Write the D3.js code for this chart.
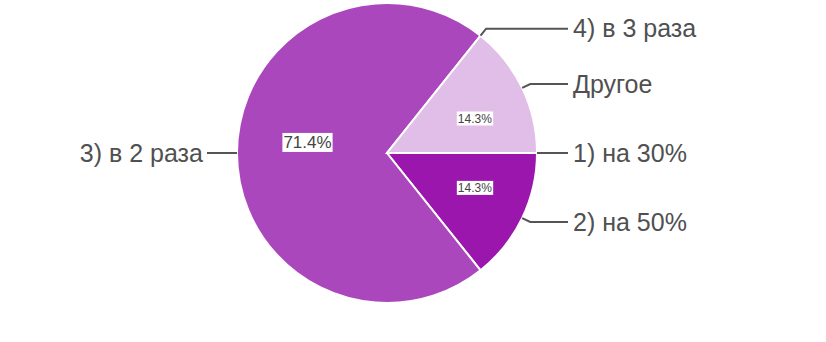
<!DOCTYPE html>
<html>
<head>
<meta charset="utf-8">
<script src="https://cdn.jsdelivr.net/npm/d3@7"></script>
<style>
  body { margin: 0; background: #fff; }
  svg text { font-family: "Liberation Sans", Arial, sans-serif; }
</style>
</head>
<body>
<div id="chart"></div>
<script>
var labels = ["1) на 30%", "2) на 50%", "3) в 2 раза", "4) в 3 раза", "Другое"];
var values = [0, 1, 5, 0, 1];
var colors = ["#7b1fa2", "#9a16ad", "#ab47bc", "#ce93d8", "#e1bee7"];

var width = 826,
    height = 342,
    cx = 387,
    cy = 153,
    radius = 150;

var svg = d3.select("#chart").append("svg")
    .attr("width", width)
    .attr("height", height);

var g = svg.append("g")
    .attr("transform", "translate(" + cx + "," + cy + ")");

var data = labels.map(function(d, i) { return { label: d, value: values[i], color: colors[i] }; });
var total = d3.sum(values);

/* pie starts at 3 o'clock, clockwise */
var pie = d3.pie()
    .sort(null)
    .value(function(d) { return d.value; })
    .startAngle(Math.PI / 2)
    .endAngle(Math.PI / 2 + 2 * Math.PI);

var arcs = pie(data);

var arc = d3.arc().innerRadius(0).outerRadius(radius);
var edgeArc = d3.arc().innerRadius(radius).outerRadius(radius);
var outerArc = d3.arc().innerRadius(radius * 1.06).outerRadius(radius * 1.06);
var smallLabelArc = d3.arc().innerRadius(radius * 0.65).outerRadius(radius * 0.65);
var bigLabelArc = d3.arc().innerRadius(radius * 0.53).outerRadius(radius * 0.53);

g.selectAll("path.slice")
    .data(arcs.filter(function(d) { return d.value > 0; }))
    .enter().append("path")
        .attr("class", "slice")
        .attr("d", arc)
        .attr("fill", function(d) { return d.data.color; })
        .attr("stroke", "#fff")
        .attr("stroke-width", 2);

/* outside labels with leader lines */
arcs.forEach(function(d) {
    var mid = (d.startAngle + d.endAngle) / 2;
    var p0 = edgeArc.centroid(d),
        p1 = outerArc.centroid(d);
    var right = Math.sin(mid) > 0;
    if (Math.abs(p1[1]) < 2) p1 = [p0[0], p0[1]];
    var x2 = right ? radius + 31 : -(radius + 30);

    g.append("polyline")
        .attr("points", [p0, p1, [x2, p1[1]]].map(function(p) { return p.join(","); }).join(" "))
        .attr("fill", "none")
        .attr("stroke", "#555")
        .attr("stroke-width", 2);

    g.append("text")
        .attr("x", right ? x2 + 5 : x2 - 4)
        .attr("y", p1[1])
        .attr("dy", "0.35em")
        .attr("text-anchor", right ? "start" : "end")
        .attr("font-size", 25)
        .attr("fill", "#505050")
        .text(d.data.label);
});

/* percentage labels */
arcs.filter(function(d) { return d.value > 0; }).forEach(function(d) {
    var share = d.value / total;
    var big = share > 0.5;
    var pos = big ? bigLabelArc.centroid(d) : smallLabelArc.centroid(d);
    if (big) pos[1] -= 11;
    else pos[1] *= 0.82;

    var lg = g.append("g").attr("transform", "translate(" + pos[0] + "," + pos[1] + ")");
    var rect = lg.append("rect").attr("fill", "#fff");
    var t = lg.append("text")
        .attr("text-anchor", "middle")
        .attr("dy", "0.35em")
        .attr("font-size", big ? 17 : 12)
        .attr("fill", "#444")
        .text(d3.format(".1f")(share * 100) + "%");
    var bb = t.node().getBBox();
    rect.attr("x", bb.x - 1).attr("y", bb.y)
        .attr("width", bb.width + 2).attr("height", bb.height);
});
</script>
</body>
</html>
